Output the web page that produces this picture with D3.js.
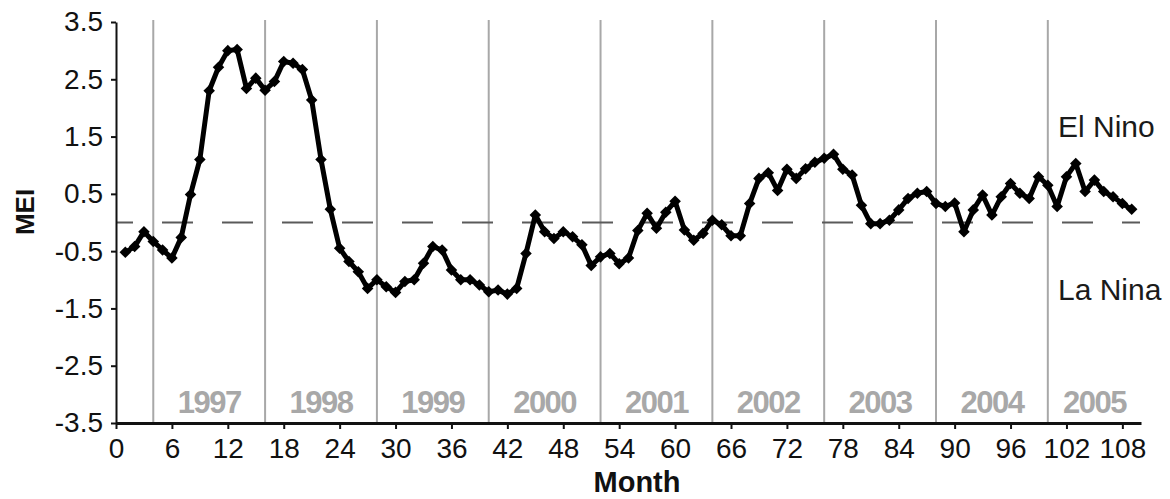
<!DOCTYPE html>
<html>
<head>
<meta charset="utf-8">
<script src="https://cdn.jsdelivr.net/npm/d3@7"></script>
<style>
  html, body { margin: 0; padding: 0; background: #fff; }
  svg { display: block; font-family: "Liberation Sans", Arial, sans-serif; }
</style>
</head>
<body>
<svg id="chart" width="1170" height="499"></svg>
<script>
// Multivariate ENSO Index, monthly values (month 1 .. 109)
const months = d3.range(1, 110);
const mei = [
  -0.52, -0.42, -0.16, -0.33, -0.48, -0.62, -0.26, 0.49, 1.10, 2.30,
   2.71, 3.00, 3.02, 2.34, 2.52, 2.31, 2.46, 2.81, 2.78, 2.67,
   2.14, 1.10, 0.23, -0.45, -0.68, -0.86, -1.15, -1.00, -1.12, -1.22,
  -1.03, -1.00, -0.71, -0.42, -0.48, -0.83, -1.00, -1.00, -1.09, -1.21,
  -1.18, -1.25, -1.15, -0.54, 0.13, -0.16, -0.28, -0.16, -0.25, -0.39,
  -0.75, -0.60, -0.54, -0.72, -0.62, -0.14, 0.16, -0.10, 0.18, 0.37,
  -0.13, -0.31, -0.19, 0.04, -0.04, -0.23, -0.23, 0.33, 0.77, 0.87,
   0.56, 0.93, 0.77, 0.94, 1.05, 1.12, 1.19, 0.93, 0.83, 0.30,
  -0.02, -0.02, 0.04, 0.22, 0.42, 0.51, 0.54, 0.33, 0.28, 0.34,
  -0.16, 0.22, 0.48, 0.13, 0.45, 0.68, 0.51, 0.42, 0.80, 0.65,
   0.28, 0.80, 1.03, 0.54, 0.74, 0.54, 0.45, 0.33, 0.23
];

// Axis ticks and year bands
const yTicks = [-3.5, -2.5, -1.5, -0.5, 0.5, 1.5, 2.5, 3.5];
const xTicks = d3.range(0, 109, 6);
const yearBreaks = [4, 16, 28, 40, 52, 64, 76, 88, 100];
const years = ["1997", "1998", "1999", "2000", "2001", "2002", "2003", "2004", "2005"];
const phaseLabels = [{ text: "El Nino", v: 1.49 }, { text: "La Nina", v: -1.35 }];

const svg = d3.select("#chart");
const plotLeft = 116, plotRight = 1141, plotTop = 22, plotBottom = 423;

const x = d3.scaleLinear().domain([0, 110]).range([plotLeft, plotRight]);
const y = d3.scaleLinear().domain([-3.5, 3.5]).range([plotBottom, plotTop]);

// Year separators
svg.append("g").selectAll("line").data(yearBreaks).join("line")
  .attr("x1", d => x(d)).attr("x2", d => x(d))
  .attr("y1", plotTop - 2).attr("y2", plotBottom)
  .attr("stroke", "#a8a8a8").attr("stroke-width", 2);

// Year labels, centred within each band
const bandEdges = yearBreaks.concat([110]);
svg.append("g").selectAll("text").data(years).join("text")
  .attr("x", (d, i) => x((bandEdges[i] + bandEdges[i + 1]) / 2))
  .attr("y", 413)
  .attr("text-anchor", "middle")
  .attr("font-size", 31).attr("font-weight", "bold")
  .attr("letter-spacing", -1.5)
  .attr("fill", "#a8a8a8")
  .text(d => d);

// Zero reference line
svg.append("line")
  .attr("x1", plotLeft).attr("x2", plotRight - 1)
  .attr("y1", y(0)).attr("y2", y(0))
  .attr("stroke", "#5a5a5a").attr("stroke-width", 2)
  .attr("stroke-dasharray", "31,29")
  .attr("stroke-dashoffset", 14);

// Y axis
const yAxis = svg.append("g").attr("transform", `translate(${plotLeft},0)`)
  .call(d3.axisLeft(y).tickValues(yTicks).tickSize(5).tickSizeOuter(0).tickFormat(d => d.toFixed(1)));
yAxis.select(".domain").attr("stroke", "#111").attr("stroke-width", 2);
yAxis.selectAll(".tick line").attr("stroke", "#111").attr("stroke-width", 2);
yAxis.selectAll(".tick text").attr("font-size", 28).attr("fill", "#111").attr("x", -13)
  .attr("font-family", "Liberation Sans, Arial, sans-serif");

// X axis
const xAxis = svg.append("g").attr("transform", `translate(0,${plotBottom})`)
  .call(d3.axisBottom(x).tickValues(xTicks).tickSize(6).tickSizeOuter(0));
xAxis.select(".domain").attr("stroke", "#111").attr("stroke-width", 3);
xAxis.selectAll(".tick line").attr("stroke", "#111").attr("stroke-width", 2);
xAxis.selectAll(".tick text").attr("font-size", 28).attr("fill", "#111").attr("y", 15)
  .attr("font-family", "Liberation Sans, Arial, sans-serif");

// Axis titles
svg.append("text")
  .attr("transform", "translate(34,212) rotate(-90)")
  .attr("text-anchor", "middle")
  .attr("font-size", 26).attr("font-weight", "bold").attr("fill", "#111")
  .text("MEI");
svg.append("text")
  .attr("x", 637).attr("y", 492)
  .attr("text-anchor", "middle")
  .attr("font-size", 29).attr("font-weight", "bold").attr("fill", "#111")
  .text("Month");

// Phase annotations
svg.append("g").selectAll("text").data(phaseLabels).join("text")
  .attr("x", 1058).attr("y", d => y(d.v))
  .attr("font-size", 30).attr("fill", "#1a1a1a")
  .text(d => d.text);

// MEI series
const data = months.map((m, i) => ({ m, v: mei[i] }));
svg.append("path").datum(data)
  .attr("fill", "none").attr("stroke", "#000").attr("stroke-width", 5)
  .attr("stroke-linejoin", "round")
  .attr("d", d3.line().x(d => x(d.m)).y(d => y(d.v)));

const diamond = d3.symbol().type(d3.symbolDiamond2).size(85);
svg.append("g").selectAll("path").data(data).join("path")
  .attr("transform", d => `translate(${x(d.m)},${y(d.v)})`)
  .attr("d", diamond)
  .attr("fill", "#000");
</script>
</body>
</html>
